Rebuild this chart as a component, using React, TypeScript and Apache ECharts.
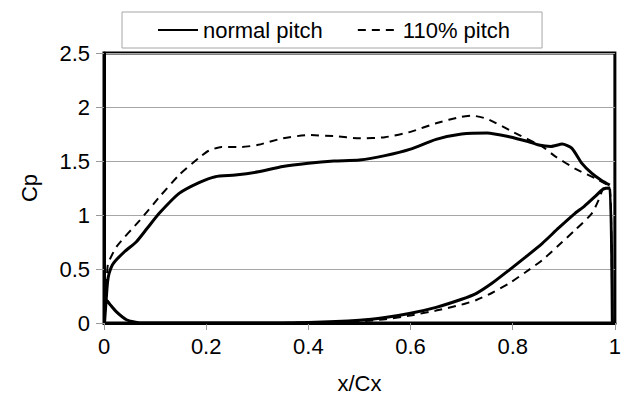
import React, { useEffect, useRef } from "react";
import * as echarts from "echarts";

// Pressure coefficient around the blade, as [x/Cx, Cp] pairs.
// Each loop runs: trailing edge -> pressure side -> leading edge -> suction side.
const normalPressureSide: [number, number][] = [
  [0.995, 0], [0.99, 1.25], [0.977, 1.24], [0.961, 1.17], [0.94, 1.08],
  [0.922, 1.015], [0.89, 0.88], [0.858, 0.738], [0.825, 0.61], [0.793, 0.49],
  [0.76, 0.37], [0.729, 0.275], [0.7, 0.22], [0.65, 0.145], [0.6, 0.09],
  [0.55, 0.05], [0.5, 0.025], [0.4, 0.005], [0.3, 0], [0.07, 0],
  [0.044, 0.03], [0.025, 0.1], [0.012, 0.17], [0.005, 0.21], [0.002, 0.1], [0.001, 0],
];
const normalSuctionSide: [number, number][] = [
  [0.004, 0.2], [0.007, 0.38], [0.01, 0.46], [0.018, 0.55], [0.04, 0.66],
  [0.063, 0.75], [0.085, 0.88], [0.109, 1.02], [0.147, 1.2], [0.186, 1.3],
  [0.218, 1.355], [0.257, 1.37], [0.302, 1.4], [0.35, 1.45], [0.4, 1.48],
  [0.45, 1.5], [0.5, 1.51], [0.55, 1.55], [0.6, 1.61], [0.65, 1.7],
  [0.7, 1.75], [0.75, 1.76], [0.793, 1.725], [0.83, 1.68], [0.851, 1.648],
  [0.875, 1.635], [0.897, 1.657], [0.916, 1.617], [0.935, 1.48], [0.955, 1.385],
  [0.974, 1.32], [0.99, 1.278],
];

const widePressureSide: [number, number][] = [
  [0.995, 0], [0.99, 1.25], [0.977, 1.245], [0.971, 1.17], [0.955, 1.015],
  [0.922, 0.86], [0.89, 0.72], [0.858, 0.583], [0.825, 0.47], [0.793, 0.367],
  [0.76, 0.28], [0.729, 0.213], [0.7, 0.17], [0.65, 0.115], [0.6, 0.07],
  [0.55, 0.035], [0.5, 0.015], [0.4, 0.003], [0.3, 0], [0.07, 0],
  [0.044, 0.03], [0.025, 0.1], [0.012, 0.17], [0.005, 0.22], [0.002, 0.1], [0.001, 0],
];
const wideSuctionSide: [number, number][] = [
  [0.004, 0.3], [0.006, 0.46], [0.008, 0.55], [0.025, 0.71], [0.07, 0.95],
  [0.109, 1.17], [0.147, 1.37], [0.186, 1.53], [0.205, 1.595], [0.23, 1.63],
  [0.27, 1.63], [0.302, 1.65], [0.35, 1.71], [0.4, 1.74], [0.45, 1.73],
  [0.5, 1.71], [0.55, 1.72], [0.6, 1.77], [0.65, 1.85], [0.7, 1.91],
  [0.72, 1.92], [0.75, 1.89], [0.8, 1.77], [0.858, 1.633], [0.884, 1.54],
  [0.922, 1.43], [0.961, 1.34], [0.986, 1.278],
];

const seriesNames = ["normal pitch", "110% pitch"];
const xTicks = [0, 0.2, 0.4, 0.6, 0.8, 1];
const yTicks = [0, 0.5, 1, 1.5, 2, 2.5];

const FONT = "'Liberation Sans', Arial, sans-serif";

export default function App() {
  const ref = useRef<HTMLDivElement>(null);

  useEffect(() => {
    if (!ref.current) return;
    const chart = echarts.init(ref.current, undefined, { renderer: "svg" });
    const axisText = { color: "#000", fontSize: 22, fontFamily: FONT };

    chart.setOption({
      animation: false,
      backgroundColor: "#fff",
      grid: {
        left: 104,
        top: 53,
        width: 516,
        height: 270,
        show: true,
        borderColor: "#000",
        borderWidth: 3,
        backgroundColor: "transparent",
      },
      legend: {
        left: 122,
        top: 12,
        padding: [7, 32, 7, 35],
        itemGap: 34,
        itemWidth: 40,
        itemHeight: 12,
        borderColor: "#a6a6a6",
        borderWidth: 1,
        backgroundColor: "#fff",
        // line sample only, no marker
        itemStyle: { opacity: 0 },
        textStyle: { color: "#000", fontSize: 22, fontFamily: FONT },
        data: seriesNames,
      },
      xAxis: {
        type: "value",
        min: xTicks[0],
        max: xTicks[xTicks.length - 1],
        interval: 0.2,
        name: "x/Cx",
        nameLocation: "middle",
        nameGap: 49,
        nameTextStyle: axisText,
        axisLine: { onZero: false, lineStyle: { color: "#000", width: 3 } },
        axisTick: { show: true, length: 7, lineStyle: { color: "#999", width: 1 } },
        axisLabel: { ...axisText, margin: 12, formatter: (v: number) => String(+v.toFixed(1)) },
        splitLine: { show: false },
      },
      yAxis: {
        type: "value",
        min: yTicks[0],
        max: yTicks[yTicks.length - 1],
        interval: 0.5,
        name: "Cp",
        nameLocation: "middle",
        nameGap: 64,
        nameRotate: 90,
        nameTextStyle: axisText,
        axisLine: { onZero: false, lineStyle: { color: "#000", width: 3 } },
        axisTick: { show: true, length: 8, lineStyle: { color: "#999", width: 1 } },
        axisLabel: { ...axisText, margin: 14, formatter: (v: number) => String(+v.toFixed(1)) },
        splitLine: { show: true, lineStyle: { color: "#a6a6a6", width: 1 } },
      },
      series: [
        {
          name: seriesNames[0],
          type: "line",
          symbol: "none",
          smooth: 0.2,
          z: 3,
          data: [...normalPressureSide, ...normalSuctionSide],
          lineStyle: { color: "#000", width: 3 },
          itemStyle: { color: "#000" },
        },
        {
          name: seriesNames[1],
          type: "line",
          symbol: "none",
          smooth: 0.2,
          z: 2,
          data: [...widePressureSide, ...wideSuctionSide],
          lineStyle: { color: "#000", width: 2, type: [8, 6] },
          itemStyle: { color: "#000" },
        },
      ],
    });

    return () => chart.dispose();
  }, []);

  return (
    <div
      ref={ref}
      style={{ position: "fixed", left: 0, top: 0, width: 624, height: 405, background: "#fff" }}
    />
  );
}
